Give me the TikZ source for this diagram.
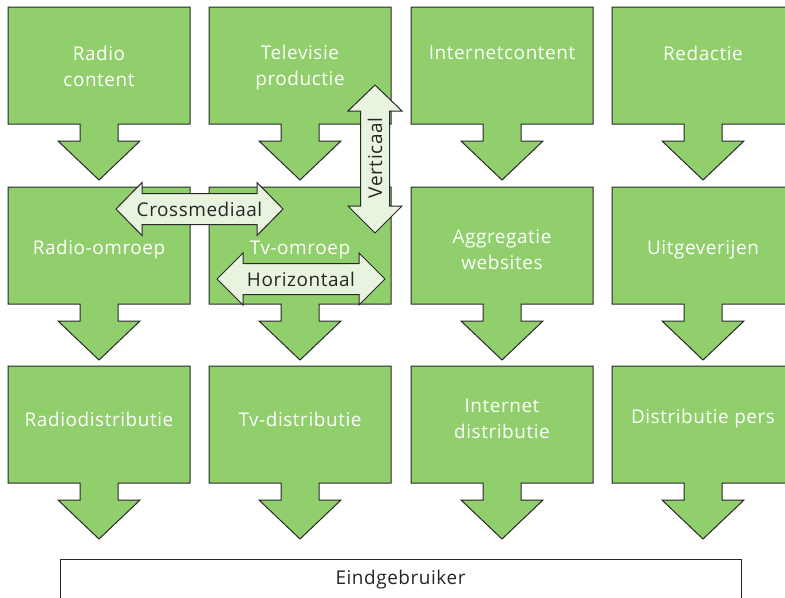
\documentclass[tikz,border=0pt]{standalone}
\usepackage{fontspec}
\setmainfont{Open Sans}[LetterSpace=3]
\usepackage{tikz}
\usepackage{xcolor}

\definecolor{boxgreen}{RGB}{144,207,107}
\definecolor{lightgreen}{RGB}{233,244,224}
\definecolor{edgegray}{RGB}{40,40,40}

\tikzset{
  flowbox/.style={draw=edgegray, fill=boxgreen, line width=0.75pt},
  twoway/.style={draw=edgegray, fill=lightgreen, line width=0.75pt},
  whitetext/.style={text=white, inner sep=0.75pt, align=center, font=\fontsize{14.2}{19.5}\selectfont},
  darktext/.style={text=black!85, inner sep=0.75pt, align=center, font=\fontsize{14.2}{19.5}\selectfont}
}

\begin{document}
\begin{tikzpicture}[x=0.75pt,y=0.75pt,yscale=-1,xscale=1]

\useasboundingbox (0,0) rectangle (785,597);
\clip (0,0) rectangle (785,597);

% row 1
\draw [flowbox] (8,7) -- (190,7) -- (190,124) -- (118,124) -- (118,141) -- (140,141) -- (99,180) -- (58,141) -- (80,141) -- (80,124) -- (8,124) -- cycle ;
\draw [flowbox] (209,7) -- (391,7) -- (391,124) -- (319,124) -- (319,141) -- (341,141) -- (300,180) -- (259,141) -- (281,141) -- (281,124) -- (209,124) -- cycle ;
\draw [flowbox] (411,7) -- (593,7) -- (593,124) -- (521,124) -- (521,141) -- (543,141) -- (502,180) -- (461,141) -- (483,141) -- (483,124) -- (411,124) -- cycle ;
\draw [flowbox] (612,7) -- (794,7) -- (794,124) -- (722,124) -- (722,141) -- (744,141) -- (703,180) -- (662,141) -- (684,141) -- (684,124) -- (612,124) -- cycle ;

% row 2
\draw [flowbox] (8,187) -- (190,187) -- (190,304) -- (118,304) -- (118,321) -- (140,321) -- (99,360) -- (58,321) -- (80,321) -- (80,304) -- (8,304) -- cycle ;
\draw [flowbox] (209,187) -- (391,187) -- (391,304) -- (319,304) -- (319,321) -- (341,321) -- (300,360) -- (259,321) -- (281,321) -- (281,304) -- (209,304) -- cycle ;
\draw [flowbox] (411,187) -- (593,187) -- (593,304) -- (521,304) -- (521,321) -- (543,321) -- (502,360) -- (461,321) -- (483,321) -- (483,304) -- (411,304) -- cycle ;
\draw [flowbox] (612,187) -- (794,187) -- (794,304) -- (722,304) -- (722,321) -- (744,321) -- (703,360) -- (662,321) -- (684,321) -- (684,304) -- (612,304) -- cycle ;

% row 3
\draw [flowbox] (8,366) -- (190,366) -- (190,483) -- (118,483) -- (118,500) -- (140,500) -- (99,539) -- (58,500) -- (80,500) -- (80,483) -- (8,483) -- cycle ;
\draw [flowbox] (209,366) -- (391,366) -- (391,483) -- (319,483) -- (319,500) -- (341,500) -- (300,539) -- (259,500) -- (281,500) -- (281,483) -- (209,483) -- cycle ;
\draw [flowbox] (411,366) -- (593,366) -- (593,483) -- (521,483) -- (521,500) -- (543,500) -- (502,539) -- (461,500) -- (483,500) -- (483,483) -- (411,483) -- cycle ;
\draw [flowbox] (612,366) -- (794,366) -- (794,483) -- (722,483) -- (722,500) -- (744,500) -- (703,539) -- (662,500) -- (684,500) -- (684,483) -- (612,483) -- cycle ;

% end user
\draw [draw=edgegray, fill=white, line width=0.75pt] (60,559) -- (741,559) -- (741,610) -- (60,610) -- cycle ;

% two-way arrows
\draw [twoway] (116,209) -- (142,182.5) -- (142,193.5) -- (257,193.5) -- (257,182.5) -- (283,209) -- (257,235.5) -- (257,224.5) -- (142,224.5) -- (142,235.5) -- cycle ;
\draw [twoway] (217,279) -- (243,253) -- (243,263.5) -- (359,263.5) -- (359,253) -- (385,279) -- (359,305) -- (359,294.5) -- (243,294.5) -- (243,305) -- cycle ;
\draw [twoway] (375,85) -- (402,111) -- (389.5,111) -- (389.5,206) -- (402,206) -- (375,233) -- (348,206) -- (360.5,206) -- (360.5,111) -- (348,111) -- cycle ;


\draw (99,66) node (radiocontent) [whitetext] {Radio\\content};
\draw (300,68) node (tvproductie) [whitetext] {Televisie\\productie};
\draw (502,53) node (internetcontent) [whitetext] {Internetcontent};
\draw (703,53) node (redactie) [whitetext] {Redactie};

\draw (99,250) node (radioomroep) [whitetext] {Radio-omroep};
\draw (300,250) node (tvomroep) [whitetext] {Tv-omroep};
\draw (502,250) node (aggregatie) [whitetext] {Aggregatie\\websites};
\draw (703,250) node (uitgeverijen) [whitetext] {Uitgeverijen};

\draw (99,419) node (radiodistributie) [whitetext] {Radiodistributie};
\draw (300,419) node (tvdistributie) [whitetext] {Tv-distributie};
\draw (502,419) node (internetdistributie) [whitetext] {Internet\\distributie};
\draw (703,419) node (distributiepers) [whitetext] {Distributie pers};

\draw (400.5,580) node (eindgebruiker) [darktext] {Eindgebruiker};

\draw (199.5,209) node (crossmediaal) [darktext] {Crossmediaal};
\draw (301,279) node (horizontaal) [darktext] {Horizontaal};
\draw (375,158) node (verticaal) [darktext, rotate=90] {Verticaal};

\end{tikzpicture}
\end{document}
